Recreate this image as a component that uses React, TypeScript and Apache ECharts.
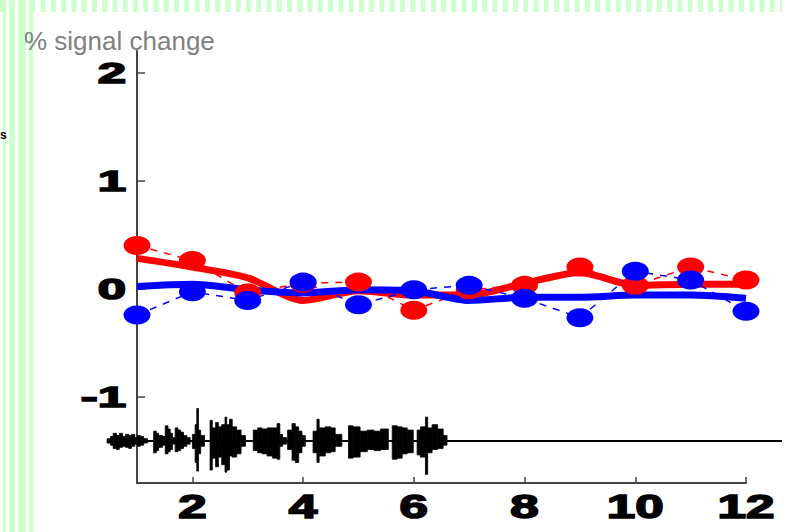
import React, { useEffect, useRef } from "react";
import * as echarts from "echarts";

// ---- data ----
const xValues = [1, 2, 3, 4, 5, 6, 7, 8, 9, 10, 11, 12];
const redPoints = [0.4, 0.26, -0.04, 0.05, 0.06, -0.2, -0.01, 0.03, 0.2, 0.03, 0.2, 0.08];
const bluePoints = [-0.245, -0.03, -0.11, 0.06, -0.15, -0.01, 0.03, -0.09, -0.27, 0.16, 0.08, -0.21];
const redTrend = [0.28, 0.2, 0.1, -0.11, -0.02, -0.06, -0.06, 0.05, 0.15, 0.03, 0.04, 0.04];
const blueTrend = [0.02, 0.04, -0.01, -0.04, -0.01, -0.02, -0.11, -0.08, -0.08, -0.06, -0.06, -0.09];
const yTickValues = [-1, 0, 1, 2];
const yTickLabels = ["-1", "0", "1", "2"];
const xTickValues = [2, 4, 6, 8, 10, 12];
const xTickLabels = ["2", "4", "6", "8", "10", "12"];
const yTitle = "% signal change";

// audio waveform: baseline level, extent of the trace, and bursts [xStart, xEnd, up, down]
const waveBaseline = -1.41;
const waveExtent = [0.46, 12.65];
const waveSegments = [
  [0.46, 0.52, 0.02, 0.02], [0.52, 0.57, 0.04, 0.04], [0.57, 0.63, 0.07, 0.07], [0.63, 0.68, 0.05, 0.08],
  [0.68, 0.74, 0.07, 0.06], [0.74, 0.79, 0.04, 0.05], [0.79, 0.85, 0.06, 0.06], [0.85, 0.9, 0.05, 0.07],
  [0.9, 0.96, 0.06, 0.05], [0.96, 1.01, 0.03, 0.03], [1.01, 1.06, 0.05, 0.05], [1.06, 1.12, 0.04, 0.04],
  [1.12, 1.19, 0.02, 0.02],
  [1.3, 1.35, 0.09, 0.11], [1.35, 1.39, 0.07, 0.09], [1.39, 1.46, 0.05, 0.06], [1.46, 1.51, 0.04, 0.04],
  [1.51, 1.56, 0.14, 0.12], [1.56, 1.6, 0.11, 0.1], [1.6, 1.64, 0.07, 0.08], [1.64, 1.69, 0.03, 0.03],
  [1.69, 1.74, 0.12, 0.1], [1.74, 1.79, 0.1, 0.09], [1.79, 1.84, 0.08, 0.07], [1.84, 1.9, 0.05, 0.05],
  [1.9, 1.96, 0.03, 0.03],
  [2.0, 2.05, 0.06, 0.07], [2.05, 2.08, 0.15, 0.2], [2.08, 2.11, 0.3, 0.28], [2.11, 2.15, 0.1, 0.12],
  [2.15, 2.22, 0.05, 0.05],
  [2.32, 2.36, 0.19, 0.27], [2.36, 2.42, 0.12, 0.16], [2.42, 2.47, 0.17, 0.24], [2.47, 2.53, 0.13, 0.15],
  [2.53, 2.59, 0.15, 0.22], [2.59, 2.62, 0.22, 0.29], [2.62, 2.67, 0.15, 0.27], [2.67, 2.72, 0.2, 0.14],
  [2.72, 2.8, 0.13, 0.15], [2.8, 2.88, 0.1, 0.12], [2.88, 2.96, 0.05, 0.05],
  [3.1, 3.18, 0.1, 0.09], [3.18, 3.26, 0.12, 0.11], [3.26, 3.35, 0.11, 0.12], [3.35, 3.45, 0.12, 0.14],
  [3.45, 3.53, 0.12, 0.16], [3.53, 3.58, 0.16, 0.17], [3.58, 3.63, 0.06, 0.05], [3.63, 3.7, 0.03, 0.03],
  [3.72, 3.8, 0.1, 0.08], [3.8, 3.86, 0.16, 0.18], [3.86, 3.92, 0.13, 0.2], [3.92, 3.98, 0.09, 0.11],
  [3.98, 4.04, 0.05, 0.05],
  [4.18, 4.25, 0.09, 0.11], [4.25, 4.29, 0.2, 0.2], [4.29, 4.4, 0.12, 0.14], [4.4, 4.5, 0.13, 0.11],
  [4.5, 4.58, 0.12, 0.1], [4.58, 4.7, 0.06, 0.05],
  [4.82, 4.9, 0.14, 0.16], [4.9, 5.03, 0.13, 0.15], [5.03, 5.16, 0.09, 0.1], [5.16, 5.28, 0.1, 0.08],
  [5.28, 5.4, 0.09, 0.09], [5.4, 5.54, 0.11, 0.08],
  [5.61, 5.7, 0.14, 0.17], [5.7, 5.79, 0.13, 0.16], [5.79, 5.88, 0.12, 0.12], [5.88, 5.99, 0.1, 0.11],
  [6.06, 6.12, 0.1, 0.13], [6.12, 6.21, 0.13, 0.15], [6.21, 6.25, 0.22, 0.31], [6.25, 6.33, 0.12, 0.11],
  [6.33, 6.43, 0.15, 0.08], [6.43, 6.53, 0.11, 0.07], [6.53, 6.6, 0.05, 0.04],
];

const RED = "#ff0000";
const BLUE = "#0000ff";
const STRIPE = "#ccffcc";
const AXIS = "#444444";

function pairs(ys: number[]) {
  return xValues.map((x, i) => [x, ys[i]]);
}

export default function App() {
  const ref = useRef<HTMLDivElement>(null);

  useEffect(() => {
    if (!ref.current) return;
    const chart = echarts.init(ref.current, null, { renderer: "svg" });

    const option: any = {
      animation: false,
      backgroundColor: "#ffffff",
      grid: { left: 137, right: 48, top: 51, bottom: 49, containLabel: false },
      xAxis: {
        type: "value",
        min: 1,
        max: 12,
        axisLine: { onZero: false, lineStyle: { color: AXIS, width: 2 } },
        axisTick: { show: true, inside: true, length: 6, customValues: xTickValues, lineStyle: { color: AXIS, width: 1.5 } },
        axisLabel: { show: false },
        splitLine: { show: false },
      },
      yAxis: {
        type: "value",
        min: -1.8,
        max: 2.2,
        axisLine: { show: true, onZero: false, lineStyle: { color: AXIS, width: 2 } },
        axisTick: { show: true, inside: true, length: 8, customValues: yTickValues, lineStyle: { color: AXIS, width: 1.5 } },
        axisLabel: { show: false },
        splitLine: { show: false },
      },
      series: [
        {
          type: "custom",
          name: "wave baseline",
          clip: false,
          encode: { x: [0, 1], y: 2 },
          data: [[waveExtent[0], waveExtent[1], waveBaseline]],
          renderItem: (_params: any, api: any) => {
            const a = api.coord([api.value(0), api.value(2)]);
            const b = api.coord([api.value(1), api.value(2)]);
            return {
              type: "line",
              shape: { x1: a[0], y1: a[1], x2: b[0], y2: b[1] },
              style: { stroke: "#000000", lineWidth: 2 },
            };
          },
        },
        {
          type: "custom",
          name: "waveform",
          clip: false,
          encode: { x: [0, 1], y: [2, 3] },
          data: waveSegments,
          renderItem: (_params: any, api: any) => {
            const x0 = api.value(0);
            const x1 = api.value(1);
            const up = api.value(2);
            const dn = api.value(3);
            const a = api.coord([x0, waveBaseline + up]);
            const b = api.coord([x1, waveBaseline - dn]);
            return {
              type: "rect",
              shape: { x: a[0], y: a[1], width: Math.max(1, b[0] - a[0]), height: b[1] - a[1] },
              style: { fill: "#000000", stroke: "#000000", lineWidth: 0.8 },
            };
          },
        },
        {
          type: "line",
          name: "red points",
          data: pairs(redPoints),
          symbol: "circle",
          symbolSize: [27, 19],
          itemStyle: { color: RED },
          lineStyle: { color: RED, width: 1.5, type: [7, 7] },
        },
        {
          type: "line",
          name: "red trend",
          data: pairs(redTrend),
          symbol: "none",
          smooth: 0.25,
          lineStyle: { color: RED, width: 7 },
        },
        {
          type: "line",
          name: "blue points",
          data: pairs(bluePoints),
          symbol: "circle",
          symbolSize: [27, 19],
          itemStyle: { color: BLUE },
          lineStyle: { color: BLUE, width: 1.5, type: [7, 7] },
        },
        {
          type: "line",
          name: "blue trend",
          data: pairs(blueTrend),
          symbol: "none",
          smooth: 0.25,
          lineStyle: { color: BLUE, width: 7 },
        },
      ],
    };
    chart.setOption(option);

    // decorative slide stripes
    const elements: any[] = [];
    for (let x = -0.5; x < 782; x += 10.27) {
      elements.push({ type: "rect", shape: { x, y: 0, width: Math.min(5, 782 - x), height: 12 }, style: { fill: STRIPE }, silent: true });
    }
    [[3, 3], [9, 6], [18, 8], [29, 4]].forEach(([x, w]) => {
      elements.push({ type: "rect", shape: { x, y: 0, width: w, height: 532 }, style: { fill: STRIPE }, silent: true });
    });
    elements.push({
      type: "text",
      x: 24,
      y: 41,
      style: { text: yTitle, fill: "#808080", font: '26px "Liberation Sans", Arial, sans-serif', align: "left", verticalAlign: "middle" },
    });
    elements.push({
      type: "text",
      x: 0,
      y: 135,
      style: { text: "s", fill: "#000000", font: 'bold 12px "Liberation Sans", Arial, sans-serif', align: "left", verticalAlign: "middle" },
    });

    // tick labels positioned through the library's scales
    yTickValues.forEach((v, i) => {
      const p = chart.convertToPixel({ gridIndex: 0 }, [1, v]) as number[];
      elements.push({
        type: "text",
        x: p[0] - 11,
        y: p[1],
        scaleX: 1.7,
        style: {
          text: yTickLabels[i], fill: "#000000", stroke: "#000000", lineWidth: 1.6,
          font: 'bold 30px "Liberation Sans", Arial, sans-serif', align: "right", verticalAlign: "middle",
        },
      });
    });
    xTickValues.forEach((v, i) => {
      const p = chart.convertToPixel({ gridIndex: 0 }, [v, -1.8]) as number[];
      elements.push({
        type: "text",
        x: p[0],
        y: p[1] + 23,
        scaleX: 1.55,
        style: {
          text: xTickLabels[i], fill: "#000000", stroke: "#000000", lineWidth: 1.6,
          font: 'bold 33px "Liberation Sans", Arial, sans-serif', align: "center", verticalAlign: "middle",
        },
      });
    });
    chart.setOption({ graphic: { elements } });

    return () => chart.dispose();
  }, []);

  return <div ref={ref} style={{ position: "fixed", left: 0, top: 0, width: 794, height: 532 }} />;
}
